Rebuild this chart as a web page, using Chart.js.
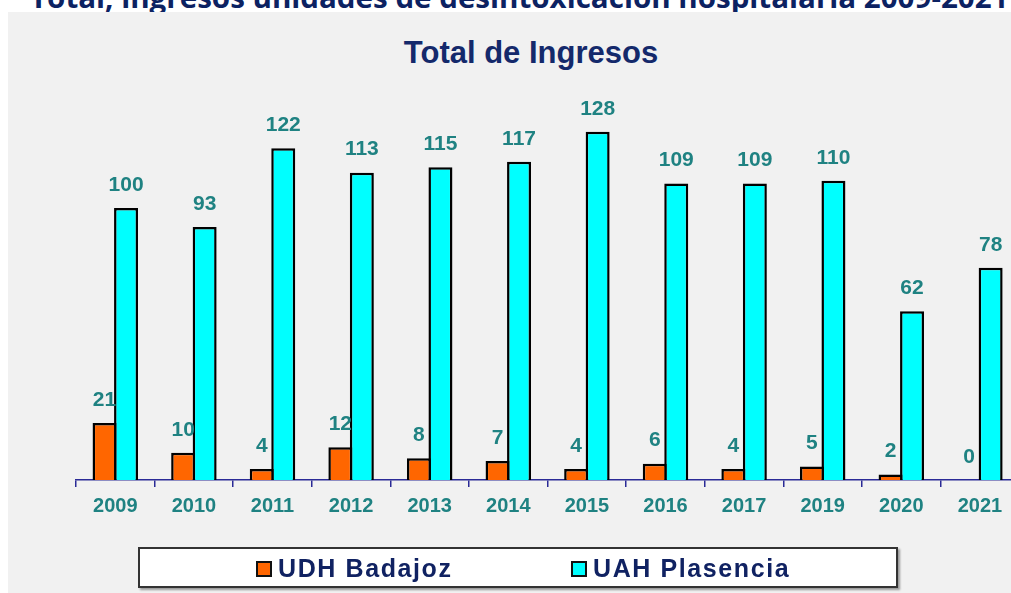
<!DOCTYPE html>
<html>
<head>
<meta charset="utf-8">
<script src="https://cdn.jsdelivr.net/npm/chart.js@4"></script>
<style>
  html, body { margin: 0; padding: 0; background: #fff; }
  body { width: 1011px; height: 593px; overflow: hidden; position: relative; font-family: "Liberation Sans", Arial, sans-serif; }
  #heading { position: absolute; left: 30px; top: -17px; white-space: nowrap; font: bold 28px "Open Sans", sans-serif; color: #0c2262; line-height: 1; transform-origin: 0 0; }
  #panel { position: absolute; left: 8px; top: 12px; right: 0; bottom: 0; background: #f1f1f1; }
  #wrap { position: absolute; left: 0; top: 0; width: 1040px; height: 593px; }
  #title { position: absolute; left: 0; width: 1062px; top: 35px; text-align: center; font: bold 31px "Liberation Sans", Arial, sans-serif; color: #14296b; }
  #legend { position: absolute; left: 138px; top: 547px; width: 756px; height: 37px; background: #fff; border: 2px solid #333; box-shadow: 2px 2px 2px #999; }
  .item { position: absolute; top: 5px; display: flex; align-items: center; font: bold 25px "Liberation Sans", Arial, sans-serif; color: #102262; letter-spacing: 1.6px; }
  .sw { width: 12px; height: 12px; border: 2px solid #111; margin-right: 6px; }
</style>
</head>
<body>
<div id="heading">Total, ingresos unidades de desintoxicación hospitalaria 2009-2021</div>
<div id="panel"></div>
<div id="title">Total de Ingresos</div>
<div id="wrap"><canvas id="chart"></canvas></div>
<div id="legend"></div>
<script>
const years = ["2009", "2010", "2011", "2012", "2013", "2014", "2015", "2016", "2017", "2019", "2020", "2021"];
const badajoz = [21, 10, 4, 12, 8, 7, 4, 6, 4, 5, 2, 0];
const plasencia = [100, 93, 122, 113, 115, 117, 128, 109, 109, 110, 62, 78];
const seriesNames = ["UDH Badajoz", "UAH Plasencia"];
const seriesColors = ["#ff6600", "#00ffff"];

const teal = "#1f8282";
const navy = "#2a2a96";

// etiquetas de valor encima de cada barra
const valueLabels = {
  id: "valueLabels",
  afterDatasetsDraw(chart) {
    const ctx = chart.ctx;
    ctx.save();
    ctx.font = "bold 21px 'Liberation Sans', Arial, sans-serif";
    ctx.fillStyle = teal;
    ctx.textAlign = "center";
    ctx.textBaseline = "middle";
    chart.data.datasets.forEach((ds, i) => {
      chart.getDatasetMeta(i).data.forEach((bar, j) => {
        ctx.fillText(ds.data[j], bar.x, bar.y - 23);
      });
    });
    ctx.restore();
  }
};

const chart = new Chart(document.getElementById("chart"), {
  type: "bar",
  data: {
    labels: years,
    datasets: [
      { label: seriesNames[0], data: badajoz, backgroundColor: seriesColors[0], borderColor: "#000", borderWidth: 2.5 },
      { label: seriesNames[1], data: plasencia, backgroundColor: seriesColors[1], borderColor: "#000", borderWidth: 2.5 }
    ]
  },
  options: {
    responsive: true,
    maintainAspectRatio: false,
    animation: false,
    // las barras comparten el borde del medio
    categoryPercentage: 0.547,
    barPercentage: 1.116,
    layout: { padding: { left: 76, right: 20.8, top: 99.2, bottom: 0 } },
    plugins: { legend: { display: false }, tooltip: { enabled: false } },
    scales: {
      x: {
        afterFit(s) { s.height = 113; },
        grid: { drawOnChartArea: false, drawTicks: true, tickLength: 7, color: navy, lineWidth: 1.5 },
        border: { color: navy, width: 1.5 },
        ticks: { color: teal, padding: 7, font: { family: "'Liberation Sans', Arial, sans-serif", size: 20, weight: "bold" } }
      },
      y: { display: false, min: 0, max: 140 }
    }
  },
  plugins: [valueLabels]
});

// leyenda
const legendPos = [256, 571];
const lg = document.getElementById("legend");
chart.data.datasets.forEach((ds, i) => {
  const it = document.createElement("div");
  it.className = "item";
  it.style.left = (legendPos[i] - 140) + "px";
  it.innerHTML = `<span class="sw" style="background:${ds.backgroundColor}"></span>${ds.label}`;
  lg.appendChild(it);
});

// ajustar el encabezado al ancho
const h = document.getElementById("heading");
h.style.transform = `scaleX(${978 / h.scrollWidth})`;
</script>
</body>
</html>
